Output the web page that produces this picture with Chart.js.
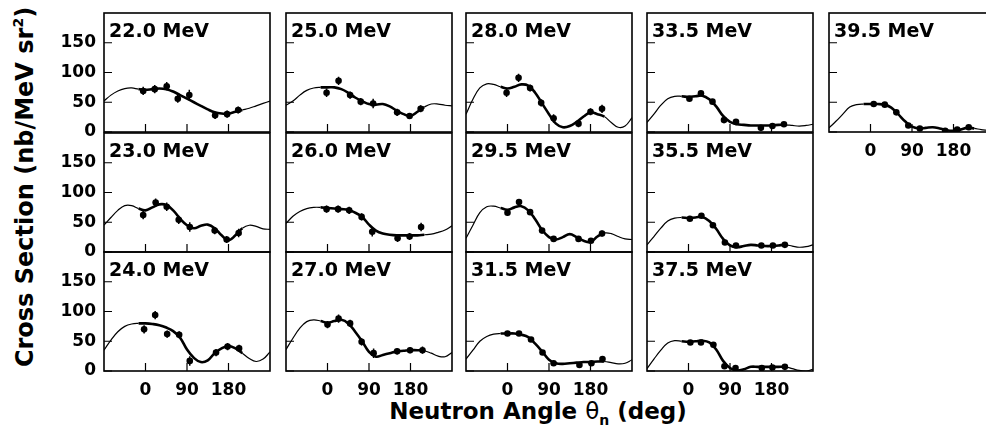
<!DOCTYPE html>
<html>
<head>
<meta charset="utf-8">
<script src="https://cdn.jsdelivr.net/npm/chart.js@4.4.1/dist/chart.umd.min.js"></script>
<style>
  html, body { margin: 0; padding: 0; width: 986px; height: 442px; overflow: hidden; background: #fff; }
  canvas { position: absolute; }
  .ytitle { position: absolute; left: 26px; top: 187px; transform: translate(-50%, -50%) rotate(-90deg);
            font: bold 24px 'DejaVu Sans', sans-serif; white-space: nowrap; line-height: 24px; color: #000; }
  .xtitle { position: absolute; left: 538px; top: 400px; transform: translateX(-50%);
            font: bold 23px 'DejaVu Sans', sans-serif; white-space: nowrap; line-height: 23px; color: #000; }
  .sm { font-size: 14px; position: relative; }
  .th { font-weight: normal; }
</style>
</head>
<body>
<div class="ytitle">Cross Section (nb/MeV sr<span class="sm" style="top:-10px">2</span>)</div>
<div class="xtitle">Neutron Angle <span class="th">&theta;</span><span class="sm" style="top:6px">n</span> (deg)</div>
<script>
const fitAngles = [-90, -75, -60, -45, -30, -15, 0, 15, 30, 45, 60, 75, 90, 105, 120, 135, 150, 165, 180, 195, 210, 225, 240, 255, 270];
const xTicks = [0, 90, 180];
const yTicks = [0, 50, 100, 150];

// 22.0 MeV
const ang22 = [-5, 20, 46, 70, 95, 151, 177, 201];
const val22 = [69, 72, 77, 56, 62, 28, 30, 37];
const err22 = [7, 7, 7, 7, 9, 6, 6, 6];
const fit22 = [52, 62, 69, 73, 74, 72, 71, 72, 73, 72, 68, 62, 56, 50, 44, 38, 33, 31, 31, 34, 37, 40, 44, 48, 52];
// 23.0 MeV
const ang23 = [-5, 22, 46, 72, 96, 150, 176, 202];
const val23 = [62, 83, 76, 54, 42, 36, 21, 32];
const err23 = [7, 7, 7, 7, 8, 6, 6, 7];
const fit23 = [45, 58, 70, 78, 78, 73, 70, 75, 80, 79, 70, 56, 45, 40, 44, 46, 40, 28, 20, 28, 40, 45, 43, 39, 38];
// 24.0 MeV
const ang24 = [-3, 21, 47, 73, 96, 153, 178, 203];
const val24 = [70, 94, 62, 61, 17, 31, 41, 38];
const err24 = [7, 7, 6, 6, 8, 6, 6, 6];
const fit24 = [35, 52, 66, 75, 79, 80, 80, 79, 77, 73, 67, 56, 36, 22, 15, 18, 30, 38, 42, 38, 30, 21, 16, 20, 32];
// 25.0 MeV
const ang25 = [-2, 24, 49, 72, 99, 151, 178, 202];
const val25 = [66, 86, 62, 51, 48, 33, 27, 39];
const err25 = [7, 7, 6, 6, 8, 6, 5, 6];
const fit25 = [45, 52, 62, 70, 74, 75, 75, 75, 72, 66, 58, 52, 47, 46, 47, 43, 36, 30, 27, 34, 42, 47, 47, 45, 44];
// 26.0 MeV
const ang26 = [-2, 23, 47, 74, 97, 152, 178, 203];
const val26 = [72, 72, 70, 59, 34, 23, 26, 42];
const err26 = [6, 6, 6, 6, 8, 6, 6, 7];
const fit26 = [48, 60, 68, 73, 75, 75, 74, 73, 72, 71, 66, 59, 46, 36, 31, 29, 28, 28, 28, 28, 29, 30, 33, 37, 44];
// 27.0 MeV
const ang27 = [0, 24, 49, 74, 100, 151, 179, 206];
const val27 = [78, 88, 80, 49, 30, 33, 35, 35];
const err27 = [6, 7, 6, 6, 8, 5, 5, 6];
const fit27 = [36, 55, 72, 83, 86, 84, 81, 84, 86, 80, 66, 50, 32, 24, 27, 30, 33, 34, 35, 35, 34, 30, 25, 24, 31];
// 28.0 MeV
const ang28 = [-2, 24, 49, 73, 100, 154, 180, 205];
const val28 = [66, 91, 74, 49, 23, 14, 34, 39];
const err28 = [7, 7, 6, 6, 7, 6, 6, 7];
const fit28 = [30, 55, 74, 81, 80, 76, 73, 76, 80, 78, 66, 48, 30, 14, 8, 10, 17, 26, 33, 30, 26, 16, 8, 10, 24];
// 29.5 MeV
const ang295 = [0, 25, 49, 75, 100, 154, 181, 205];
const val295 = [66, 84, 67, 36, 22, 22, 19, 31];
const err295 = [5, 5, 4, 4, 5, 4, 4, 5];
const fit295 = [23, 45, 66, 76, 77, 74, 71, 75, 77, 70, 55, 37, 25, 21, 25, 30, 25, 19, 17, 26, 32, 31, 26, 22, 21];
// 31.5 MeV
const ang315 = [0, 25, 51, 76, 100, 156, 182, 206];
const val315 = [63, 63, 53, 31, 13, 10, 13, 20];
const err315 = [3, 3, 3, 3, 3, 3, 3, 3];
const fit315 = [20, 35, 50, 58, 62, 63, 63, 63, 61, 57, 46, 33, 19, 13, 12, 13, 14, 15, 15, 16, 16, 14, 12, 13, 19];
// 33.5 MeV
const ang335 = [2, 27, 52, 77, 103, 157, 182, 207];
const val335 = [56, 65, 51, 20, 17, 7, 10, 13];
const err335 = [2, 2, 2, 2, 2, 2, 2, 2];
const fit335 = [16, 30, 45, 56, 60, 60, 59, 60, 61, 55, 43, 27, 17, 13, 12, 11, 11, 11, 11, 12, 12, 11, 10, 11, 13];
// 35.5 MeV
const ang355 = [3, 28, 53, 79, 103, 158, 183, 209];
const val355 = [56, 61, 45, 16, 11, 11, 11, 12];
const err355 = [2, 2, 2, 2, 2, 2, 2, 2];
const fit355 = [12, 26, 40, 52, 57, 58, 57, 58, 59, 52, 39, 22, 11, 8, 10, 12, 11, 10, 10, 11, 12, 10, 8, 9, 12];
// 37.5 MeV
const ang375 = [4, 27, 54, 78, 102, 159, 182, 209];
const val375 = [48, 48, 44, 8, 5, 5, 6, 7];
const err375 = [2, 2, 2, 2, 2, 2, 2, 2];
const fit375 = [4, 20, 35, 47, 51, 50, 49, 50, 51, 48, 36, 17, 5, 1, 3, 7, 7, 7, 7, 7, 7, 4, 1, 0, 3];
// 39.5 MeV
const ang395 = [7, 31, 56, 82, 107, 162, 188, 213];
const val395 = [47, 46, 33, 11, 6, 2, 4, 8];
const err395 = [2, 2, 2, 2, 2, 2, 2, 2];
const fit395 = [7, 18, 30, 42, 46, 47, 47, 47, 46, 41, 30, 18, 9, 6, 7, 8, 6, 3, 2, 4, 7, 6, 4, 3, 5];

const panels = [
  { label: '22.0 MeV', col: 0, row: 0, ang: ang22, val: val22, err: err22, fit: fit22 },
  { label: '23.0 MeV', col: 0, row: 1, ang: ang23, val: val23, err: err23, fit: fit23 },
  { label: '24.0 MeV', col: 0, row: 2, ang: ang24, val: val24, err: err24, fit: fit24 },
  { label: '25.0 MeV', col: 1, row: 0, ang: ang25, val: val25, err: err25, fit: fit25 },
  { label: '26.0 MeV', col: 1, row: 1, ang: ang26, val: val26, err: err26, fit: fit26 },
  { label: '27.0 MeV', col: 1, row: 2, ang: ang27, val: val27, err: err27, fit: fit27 },
  { label: '28.0 MeV', col: 2, row: 0, ang: ang28, val: val28, err: err28, fit: fit28 },
  { label: '29.5 MeV', col: 2, row: 1, ang: ang295, val: val295, err: err295, fit: fit295 },
  { label: '31.5 MeV', col: 2, row: 2, ang: ang315, val: val315, err: err315, fit: fit315 },
  { label: '33.5 MeV', col: 3, row: 0, ang: ang335, val: val335, err: err335, fit: fit335 },
  { label: '35.5 MeV', col: 3, row: 1, ang: ang355, val: val355, err: err355, fit: fit355 },
  { label: '37.5 MeV', col: 3, row: 2, ang: ang375, val: val375, err: err375, fit: fit375 },
  { label: '39.5 MeV', col: 4, row: 0, ang: ang395, val: val395, err: err395, fit: fit395 }
];

// panel boxes in page pixels
const colLeft = [104, 286, 466, 647, 829];
const rowTop = [13, 133, 252];
const boxW = 166, boxH = 119;
const padL = 60, padT = 10, padR = 10, padB = 40;

Chart.defaults.font.family = "'DejaVu Sans', sans-serif";
Chart.defaults.font.size = 17;
Chart.defaults.font.weight = 'bold';
Chart.defaults.color = '#000';

// frame, inward tick marks and the energy label
const framePlugin = {
  id: 'frame',
  afterDraw(chart, args, opts) {
    const { ctx, chartArea: a } = chart;
    const x = chart.scales.x, y = chart.scales.y;
    ctx.save();
    ctx.strokeStyle = '#000';
    ctx.lineWidth = 1.2;
    ctx.beginPath();
    xTicks.forEach(v => {
      const px = x.getPixelForValue(v);
      ctx.moveTo(px, a.bottom);
      ctx.lineTo(px, a.bottom - 8);
    });
    yTicks.forEach(v => {
      const py = y.getPixelForValue(v);
      ctx.moveTo(a.left, py);
      ctx.lineTo(a.left + 8, py);
    });
    ctx.stroke();
    ctx.lineWidth = 1.6;
    ctx.strokeRect(a.left, a.top, a.width, a.height);
    ctx.fillStyle = '#000';
    ctx.font = "bold 19px 'DejaVu Sans', sans-serif";
    ctx.textBaseline = 'alphabetic';
    ctx.fillText(opts.text, a.left + 5, a.top + 24);
    ctx.restore();
  }
};

// vertical error bars on the data points
const errorBars = {
  id: 'errorBars',
  afterDatasetsDraw(chart, args, opts) {
    const { ctx } = chart;
    const x = chart.scales.x, y = chart.scales.y;
    ctx.save();
    ctx.strokeStyle = '#000';
    ctx.lineWidth = 1.5;
    ctx.beginPath();
    opts.ang.forEach((a, i) => {
      const px = x.getPixelForValue(a);
      ctx.moveTo(px, y.getPixelForValue(opts.val[i] + opts.err[i]));
      ctx.lineTo(px, y.getPixelForValue(opts.val[i] - opts.err[i]));
    });
    ctx.stroke();
    ctx.restore();
  }
};

panels.forEach(p => {
  const cv = document.createElement('canvas');
  cv.width = padL + boxW + padR;
  cv.height = padT + boxH + padB;
  cv.style.left = (colLeft[p.col] - padL) + 'px';
  cv.style.top = (rowTop[p.row] - padT) + 'px';
  document.body.appendChild(cv);

  const showX = p.row === 2 || p.col === 4;
  const showY = p.col === 0;
  const lo = p.ang[0] - 15, hi = p.ang[p.ang.length - 1] + 5;

  new Chart(cv, {
    type: 'line',
    data: {
      datasets: [
        {
          data: fitAngles.map((a, i) => ({ x: a, y: p.fit[i] })),
          borderColor: '#000',
          borderWidth: 1.2,
          pointRadius: 0,
          tension: 0.4,
          segment: {
            borderWidth: c => {
              const m = (c.p0.parsed.x + c.p1.parsed.x) / 2;
              return (m >= lo && m <= hi) ? 2.6 : 1.2;
            }
          }
        },
        {
          data: p.ang.map((a, i) => ({ x: a, y: p.val[i] })),
          showLine: false,
          pointRadius: 3.3,
          pointBackgroundColor: '#000',
          pointBorderWidth: 0
        }
      ]
    },
    options: {
      responsive: false,
      animation: false,
      layout: { padding: { left: 0, top: padT, right: padR, bottom: 0 } },
      plugins: {
        legend: { display: false },
        tooltip: { enabled: false },
        frame: { text: p.label },
        errorBars: { ang: p.ang, val: p.val, err: p.err }
      },
      scales: {
        x: {
          type: 'linear',
          min: -90,
          max: 270,
          grid: { display: false, drawTicks: false },
          border: { display: false },
          afterBuildTicks: s => { s.ticks = xTicks.map(v => ({ value: v })); },
          afterFit: s => { s.height = padB; s.paddingLeft = 0; s.paddingRight = 0; },
          ticks: { display: showX, padding: 9, autoSkip: false, maxRotation: 0, callback: v => String(v) }
        },
        y: {
          min: 0,
          max: 200,
          grid: { display: false, drawTicks: false },
          border: { display: false },
          afterBuildTicks: s => { s.ticks = yTicks.map(v => ({ value: v })); },
          afterFit: s => { s.width = padL; s.paddingTop = 0; s.paddingBottom = 0; },
          ticks: { display: showY, padding: 8, callback: v => String(v) }
        }
      }
    },
    plugins: [framePlugin, errorBars]
  });
});
</script>
</body>
</html>
